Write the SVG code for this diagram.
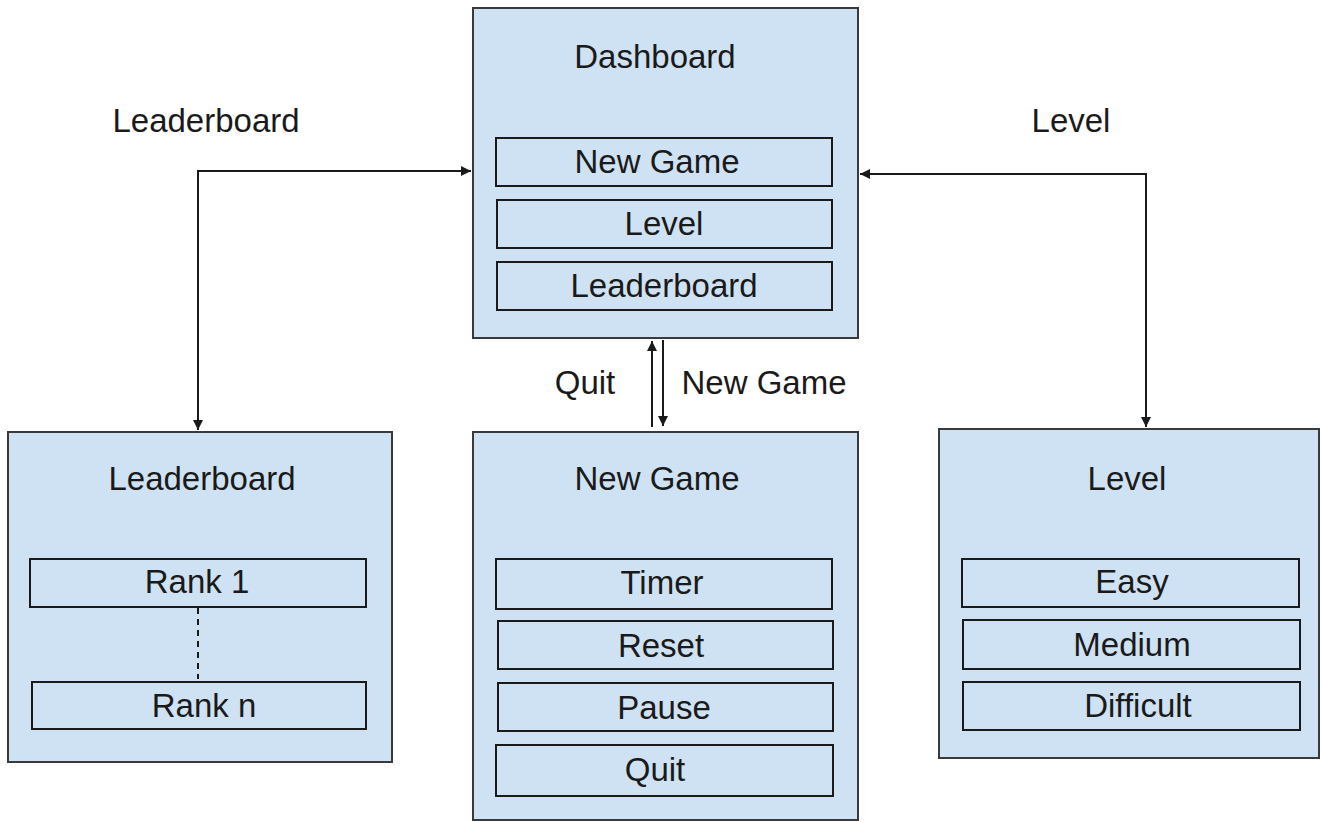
<svg xmlns="http://www.w3.org/2000/svg" width="1323" height="822" viewBox="0 0 1323 822">
  <style>
    .panel { fill: #cfe2f3; stroke: #3a3a3a; stroke-width: 2; }
    .item { fill: #cfe2f3; stroke: #1a1a1a; stroke-width: 2; }
    .t { font-family: "Liberation Sans", Arial, sans-serif; font-size: 33px; fill: #1a1a1a; text-anchor: middle; }
    .wire { fill: none; stroke: #1a1a1a; stroke-width: 2; }
  </style>
  <defs>
    <marker id="arrow" viewBox="0 0 10 10" refX="10" refY="5" markerWidth="5" markerHeight="5" orient="auto-start-reverse" markerUnits="strokeWidth">
      <path d="M0,0 L10,5 L0,10 z" fill="#1a1a1a"/>
    </marker>
  </defs>

  <rect width="1323" height="822" fill="#ffffff"/>

  <!-- connectors -->
  <g id="connectors">
    <path class="wire" d="M471,171 H198 V430" marker-start="url(#arrow)" marker-end="url(#arrow)"/>
    <path class="wire" d="M860,174 H1146 V427" marker-start="url(#arrow)" marker-end="url(#arrow)"/>
    <path class="wire" d="M652,427 V341" marker-end="url(#arrow)"/>
    <path class="wire" d="M663,340 V426" marker-end="url(#arrow)"/>
    <text class="t" x="206" y="132">Leaderboard</text>
    <text class="t" x="1071" y="132">Level</text>
    <text class="t" x="585" y="394">Quit</text>
    <text class="t" x="764" y="394">New Game</text>
  </g>

  <!-- dashboard -->
  <g id="dashboard">
    <rect class="panel" x="473" y="8" width="385" height="330"/>
    <text class="t" x="655" y="68">Dashboard</text>
    <rect class="item" x="496" y="138" width="336" height="48"/>
    <text class="t" x="657" y="173">New Game</text>
    <rect class="item" x="497" y="200" width="335" height="48"/>
    <text class="t" x="664" y="235">Level</text>
    <rect class="item" x="497" y="262" width="335" height="48"/>
    <text class="t" x="664" y="297">Leaderboard</text>
  </g>

  <!-- leaderboard screen -->
  <g id="leaderboard">
    <rect class="panel" x="8" y="432" width="384" height="330"/>
    <text class="t" x="202" y="490">Leaderboard</text>
    <rect class="item" x="30" y="559" width="336" height="48"/>
    <text class="t" x="197" y="593">Rank 1</text>
    <line x1="198" y1="608" x2="198" y2="679" stroke="#1a1a1a" stroke-width="2" stroke-dasharray="6,5"/>
    <rect class="item" x="32" y="682" width="334" height="47"/>
    <text class="t" x="204" y="717">Rank n</text>
  </g>

  <!-- new game screen -->
  <g id="new-game">
    <rect class="panel" x="473" y="432" width="385" height="388"/>
    <text class="t" x="657" y="490">New Game</text>
    <rect class="item" x="496" y="559" width="336" height="50"/>
    <text class="t" x="662" y="594">Timer</text>
    <rect class="item" x="498" y="621" width="335" height="48"/>
    <text class="t" x="661" y="657">Reset</text>
    <rect class="item" x="498" y="683" width="335" height="48"/>
    <text class="t" x="664" y="719">Pause</text>
    <rect class="item" x="496" y="745" width="337" height="51"/>
    <text class="t" x="655" y="781">Quit</text>
  </g>

  <!-- level screen -->
  <g id="level">
    <rect class="panel" x="939" y="429" width="380" height="329"/>
    <text class="t" x="1127" y="490">Level</text>
    <rect class="item" x="962" y="559" width="337" height="48"/>
    <text class="t" x="1132" y="593">Easy</text>
    <rect class="item" x="963" y="620" width="337" height="49"/>
    <text class="t" x="1132" y="656">Medium</text>
    <rect class="item" x="963" y="682" width="337" height="48"/>
    <text class="t" x="1138" y="717">Difficult</text>
  </g>
</svg>
